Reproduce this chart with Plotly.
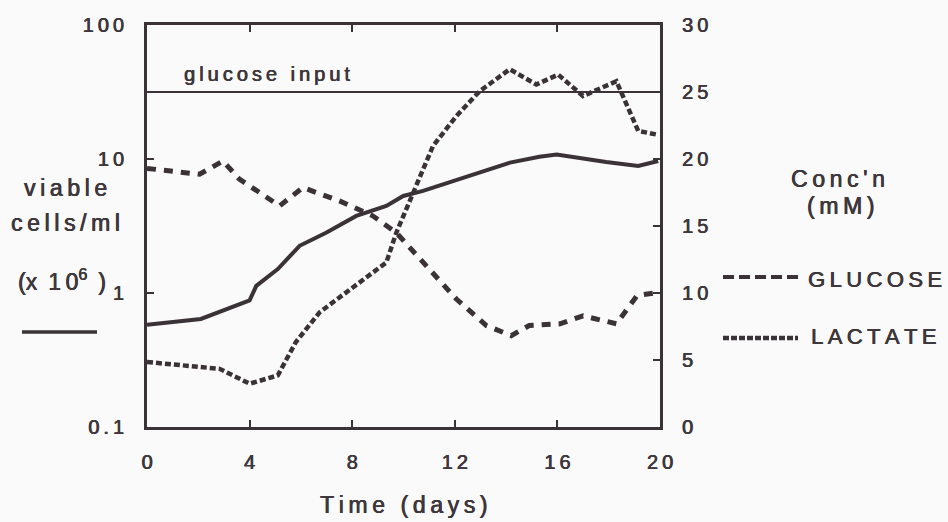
import plotly.graph_objects as go

# Viable cell density (x10^6 cells/ml), log scale, left axis
cell_days = [0.0, 2.1, 4.0, 4.26, 5.1, 5.95, 7.0, 8.16, 9.33, 9.99, 10.76, 12.7, 14.15, 15.3, 15.97, 17.9, 19.15, 19.93]
cell_density = [0.58, 0.64, 0.88, 1.13, 1.51, 2.25, 2.83, 3.76, 4.47, 5.3, 5.78, 7.69, 9.4, 10.4, 10.8, 9.5, 8.87, 9.66]

# Glucose concentration (mM), right axis
glucose_days = [0.0, 2.05, 2.96, 3.6, 5.17, 6.08, 7.5, 8.8, 9.72, 10.76, 12.06, 13.23, 14.2, 14.9, 16.1, 17.0, 18.3, 19.1, 19.93]
glucose_mm = [19.3, 18.86, 19.85, 18.5, 16.5, 17.87, 16.87, 15.76, 14.5, 12.3, 9.55, 7.57, 6.82, 7.57, 7.7, 8.3, 7.7, 9.8, 10.05]

# Lactate concentration (mM), right axis
lactate_days = [0.0, 2.83, 4.0, 5.1, 5.8, 6.73, 7.77, 8.8, 9.33, 9.72, 10.37, 11.15, 12.06, 12.97, 13.5, 14.14, 15.18, 16.03, 17.0, 18.3, 19.15, 19.93]
lactate_mm = [4.85, 4.34, 3.23, 3.85, 6.33, 8.56, 10.05, 11.54, 12.28, 14.5, 17.5, 20.97, 23.2, 25.06, 25.8, 26.7, 25.56, 26.3, 24.7, 25.8, 22.1, 21.8]

# Glucose concentration of the feed medium (mM)
input_days = [0, 20]
glucose_input_mm = 25

x_ticks = [0, 4, 8, 12, 16, 20]
left_ticks = [0.1, 1, 10, 100]
left_tick_labels = ["0.1", "1", "10", "100"]
right_ticks = [0, 5, 10, 15, 20, 25, 30]

INK = "#3a3236"
TEXT = "#3e373b"
FONT = "Liberation Sans, Arial, sans-serif"
# slight stroke thickening so the type reads like the heavier print face
HEAVY = "0.45px 0 0 #3e373b, -0.2px 0 0 #3e373b"
W, H = 948, 522
L, R, T, B = 147, 660, 25, 427


def track(s):
    """Spread letters apart with thin spaces (wide typewriter-style tracking)."""
    return "\u2009".join(s)


def px(x):
    return (x - L) / (R - L)


def py(y):
    return (B - y) / (B - T)


fig = go.Figure()

fig.add_trace(go.Scatter(
    x=cell_days, y=cell_density, mode="lines", name="viable cells",
    line=dict(color=INK, width=4), yaxis="y"))
fig.add_trace(go.Scatter(
    x=glucose_days, y=glucose_mm, mode="lines", name="GLUCOSE",
    line=dict(color=INK, width=5, dash="9px,8px"), yaxis="y2"))
fig.add_trace(go.Scatter(
    x=lactate_days, y=lactate_mm, mode="lines", name="LACTATE",
    line=dict(color=INK, width=4.5, dash="6px,3px"), yaxis="y2"))
fig.add_trace(go.Scatter(
    x=input_days, y=[glucose_input_mm] * len(input_days), mode="lines",
    name="glucose input", line=dict(color=INK, width=2), yaxis="y2"))

tick_font = dict(family=FONT, size=20, color=TEXT, shadow=HEAVY)

fig.update_layout(
    width=W, height=H,
    margin=dict(l=L, r=W - R, t=T, b=H - B, pad=0),
    paper_bgcolor="#fafafa", plot_bgcolor="#fafafa",
    showlegend=False,
    xaxis=dict(
        range=[0, 20], tickvals=x_ticks, ticktext=[track(str(v)) for v in x_ticks],
        showline=True, linecolor=INK, linewidth=3, mirror="ticks",
        ticks="inside", ticklen=7, tickwidth=2, tickcolor=INK,
        showgrid=False, zeroline=False, tickfont=tick_font,
        ticklabelstandoff=15,
    ),
    yaxis=dict(
        type="log", range=[-1, 2], tickvals=left_ticks,
        ticktext=[track(t) for t in left_tick_labels],
        showline=True, linecolor=INK, linewidth=3,
        ticks="inside", ticklen=7, tickwidth=2, tickcolor=INK,
        showgrid=False, zeroline=False, tickfont=tick_font,
        ticklabelstandoff=16,
    ),
    yaxis2=dict(
        range=[0, 30], tickvals=right_ticks, ticktext=[track(str(v)) for v in right_ticks],
        overlaying="y", side="right",
        showline=True, linecolor=INK, linewidth=3,
        ticks="inside", ticklen=7, tickwidth=2, tickcolor=INK,
        showgrid=False, zeroline=False, tickfont=tick_font,
        ticklabelstandoff=15,
    ),
)


def note(text, x, y, xanchor="center", size=22):
    fig.add_annotation(
        text=text, x=px(x), y=py(y), xref="paper", yref="paper",
        xanchor=xanchor, yanchor="middle", showarrow=False,
        font=dict(family=FONT, size=size, color=TEXT, shadow=HEAVY))


# Left axis title
note(track("viable"), 65, 188, size=23)
note(track("cells/ml"), 65, 223, size=23)
note("(x\u2009 1\u20090<sup>6</sup>\u2009 )", 62, 280, size=23)

# Right axis title
note(track("Conc'n"), 838, 179, size=23)
note(track("(mM)"), 840, 206, size=23)

# Series key on the right
note(track("GLUCOSE"), 806, 279, xanchor="left")
note(track("LACTATE"), 809, 336, xanchor="left")

# Feed line label
note(track("glucose") + "\u2009 \u2009" + track("input"), 182, 74, xanchor="left", size=20)

# X axis title
note(track("Time") + "\u2009 \u2009" + track("(days)"), 403, 505, size=23)

# Key line samples
fig.add_shape(type="line", xref="paper", yref="paper",
              x0=px(22), x1=px(97), y0=py(332), y1=py(332),
              line=dict(color=INK, width=3.5))
fig.add_shape(type="line", xref="paper", yref="paper",
              x0=px(723), x1=px(802), y0=py(277), y1=py(277),
              line=dict(color=INK, width=4, dash="11px,5px"))
fig.add_shape(type="line", xref="paper", yref="paper",
              x0=px(723), x1=px(798), y0=py(338), y1=py(338),
              line=dict(color=INK, width=4.5, dash="6px,2px"))

fig.write_html("out.html")
